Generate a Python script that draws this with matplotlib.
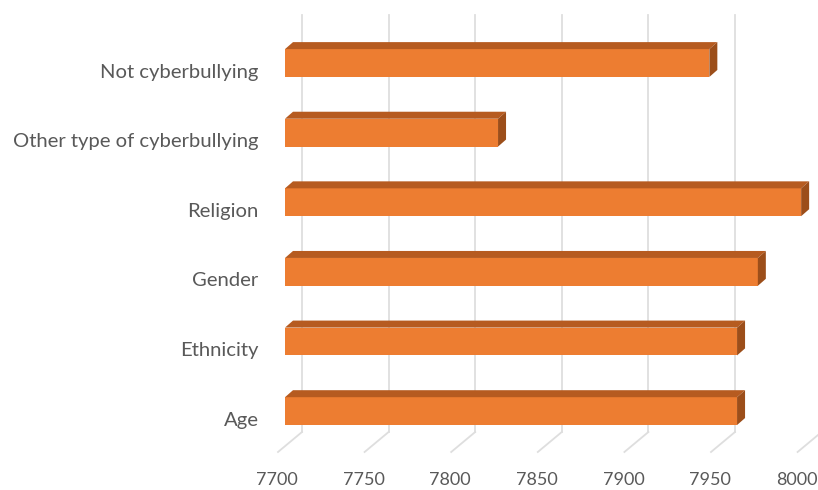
import matplotlib
matplotlib.use('Agg')
import matplotlib.pyplot as plt
from matplotlib.patches import Polygon
from matplotlib.lines import Line2D
from matplotlib.transforms import IdentityTransform, ScaledTranslation

categories = ['Age', 'Ethnicity', 'Gender', 'Religion',
              'Other type of cyberbullying', 'Not cyberbullying']
counts = [7961, 7961, 7973, 7998, 7823, 7945]
ticks = [7700, 7750, 7800, 7850, 7900, 7950, 8000]
base = 7700

plt.rcParams['font.family'] = ['Lato', 'DejaVu Sans']

W, H = 818, 490
fig = plt.figure(figsize=(W / 100, H / 100), dpi=100)
ax = fig.add_axes([285 / W, 58 / H, 519.6 / W, 417 / H])
ax.set_xlim(7700, 8000)
ax.set_ylim(-0.30, 5.69)
ax.set_autoscale_on(False)
for s in ax.spines.values():
    s.set_visible(False)

y = list(range(len(categories)))
bars = ax.barh(y, [c - base for c in counts], left=base, height=0.40,
               color='#ED7D31', zorder=3)

ax.set_yticks(y)
ax.set_yticklabels(categories, color='#595959', fontsize=14.6)
ax.tick_params(axis='y', length=0, pad=19)
ax.set_xticks(ticks)
ax.set_xticklabels([str(t) for t in ticks], color='#595959', fontsize=13)
ax.tick_params(axis='x', length=0, pad=29)
fig.canvas.draw()
for lab in ax.get_xticklabels():
    lab.set_transform(lab.get_transform() + ScaledTranslation(-0.08, 0, fig.dpi_scale_trans))
for lab in ax.get_yticklabels():
    lab.set_transform(lab.get_transform() + ScaledTranslation(0, -0.075, fig.dpi_scale_trans))

# back wall gridlines and floor lines
grid = '#DEDEDE'
for t in ticks:
    xb, yb = ax.transData.transform((t, -0.30))
    _, yt = ax.transData.transform((t, 5.69))
    ax.add_line(Line2D([xb + 17, xb + 17], [yb, yt], color=grid, lw=1.3,
                       transform=IdentityTransform(), clip_on=False, zorder=1))
    ax.add_line(Line2D([xb + 17, xb - 7], [yb, yb - 20], color=grid, lw=1.3,
                       transform=IdentityTransform(), clip_on=False, zorder=1))

# 3d faces of the bars
dx, dy = 8, 7
for b in bars:
    x0, y0 = ax.transData.transform((b.get_x(), b.get_y()))
    x1, y1 = ax.transData.transform((b.get_x() + b.get_width(), b.get_y() + b.get_height()))
    top = Polygon([(x0, y1), (x1, y1), (x1 + dx, y1 + dy), (x0 + dx, y1 + dy)],
                  closed=True, facecolor='#B65B20', edgecolor='none',
                  transform=IdentityTransform(), clip_on=False, zorder=3)
    side = Polygon([(x1, y0), (x1, y1), (x1 + dx, y1 + dy), (x1 + dx, y0 + dy)],
                   closed=True, facecolor='#9C4E1A', edgecolor='none',
                   transform=IdentityTransform(), clip_on=False, zorder=3)
    ax.add_patch(top)
    ax.add_patch(side)

fig.savefig('out.png', dpi=100)
